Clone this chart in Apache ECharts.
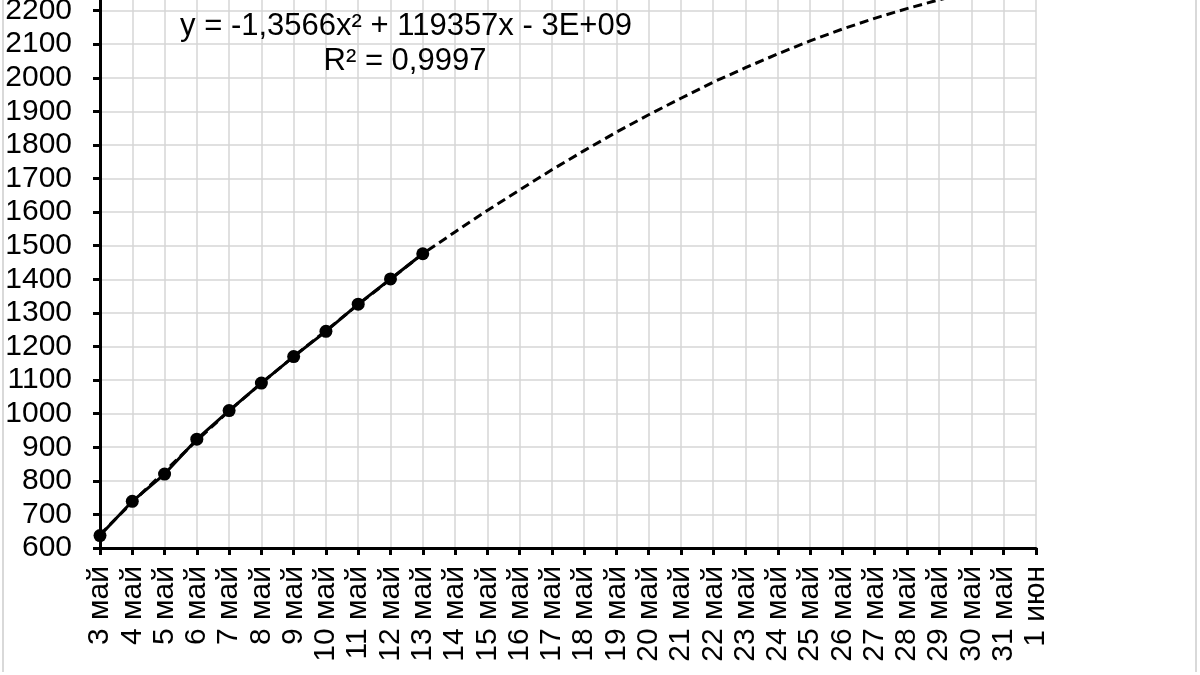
<!DOCTYPE html>
<html>
<head>
<meta charset="utf-8">
<script src="https://cdn.jsdelivr.net/npm/echarts@6/dist/echarts.min.js"></script>
<style>
html,body{margin:0;padding:0;background:#fff;overflow:hidden;}
#wrap{position:relative;width:1200px;height:675px;overflow:hidden;}
#c{position:absolute;left:0;top:-23px;width:1200px;height:698px;}
</style>
</head>
<body>
<div id="wrap"><div id="c"></div></div>
<script>
var categories = ['3 май','4 май','5 май','6 май','7 май','8 май','9 май','10 май','11 май','12 май','13 май','14 май','15 май','16 май','17 май','18 май','19 май','20 май','21 май','22 май','23 май','24 май','25 май','26 май','27 май','28 май','29 май','30 май','31 май','1 июн'];
var actualValues = [637, 739, 820, 924, 1009, 1091, 1170, 1245, 1326, 1401, 1476];
var trendValues = [640, 736, 828, 920, 1008, 1091, 1170, 1247, 1325, 1400, 1476, 1541, 1605, 1666, 1726, 1783, 1838, 1890, 1939, 1987, 2030, 2071, 2110, 2145, 2177, 2206, 2232, 2257, 2280, 2302];
var equationLines = ['y = -1,3566x² + 119357x - 3E+09', 'R² = 0,9997'];
var yMin = 600, yMax = 2300, yStep = 100;

var OFF = 23;
var FONT = '"Liberation Sans", Arial, sans-serif';
var chart = echarts.init(document.getElementById('c'), null, {renderer: 'canvas'});
chart.setOption({
  backgroundColor: '#ffffff',
  animation: false,
  grid: {left: 100, right: 164, top: 0, bottom: 127, containLabel: false, outerBoundsMode: 'none'},
  xAxis: {
    type: 'category',
    data: categories,
    boundaryGap: false,
    axisLine: {show: true, lineStyle: {color: '#000', width: 3}},
    axisTick: {show: true, length: 7, lineStyle: {color: '#000', width: 3}},
    axisLabel: {interval: 0, rotate: 90, margin: 18, color: '#000', fontSize: 30, fontFamily: FONT},
    splitLine: {show: true, interval: 0, lineStyle: {color: '#d6d6d6', width: 1.5}}
  },
  yAxis: {
    type: 'value',
    min: yMin, max: yMax, interval: yStep,
    axisLine: {show: true, lineStyle: {color: '#000', width: 3}},
    axisTick: {show: true, length: 7, lineStyle: {color: '#000', width: 3}},
    axisLabel: {margin: 28, color: '#000', fontSize: 30, fontFamily: FONT,
      formatter: function (v) { return String(v); }},
    splitLine: {show: true, lineStyle: {color: '#d6d6d6', width: 1.5}}
  },
  series: [
    {
      name: 'trend', type: 'line', data: trendValues, showSymbol: false, symbol: 'none',
      lineStyle: {color: '#000', width: 3, type: [9, 5]}, z: 2, clip: true
    },
    {
      name: 'data', type: 'line', data: actualValues, symbol: 'circle', symbolSize: 13,
      itemStyle: {color: '#000'}, lineStyle: {color: '#000', width: 3}, z: 3, clip: false
    }
  ],
  graphic: [
    {type: 'line', shape: {x1: 3, y1: OFF, x2: 3, y2: 672 + OFF}, style: {stroke: '#d9d9d9', lineWidth: 2}},
    {type: 'line', shape: {x1: 1196, y1: OFF, x2: 1196, y2: 672 + OFF}, style: {stroke: '#d9d9d9', lineWidth: 2}},
    {type: 'text', x: 406, y: 26 + OFF, z: 10, style: {text: equationLines[0], font: '31px ' + FONT, fill: '#000', align: 'center', verticalAlign: 'middle'}},
    {type: 'text', x: 405, y: 61 + OFF, z: 10, style: {text: equationLines[1], font: '31px ' + FONT, fill: '#000', align: 'center', verticalAlign: 'middle'}}
  ]
});
</script>
</body>
</html>
